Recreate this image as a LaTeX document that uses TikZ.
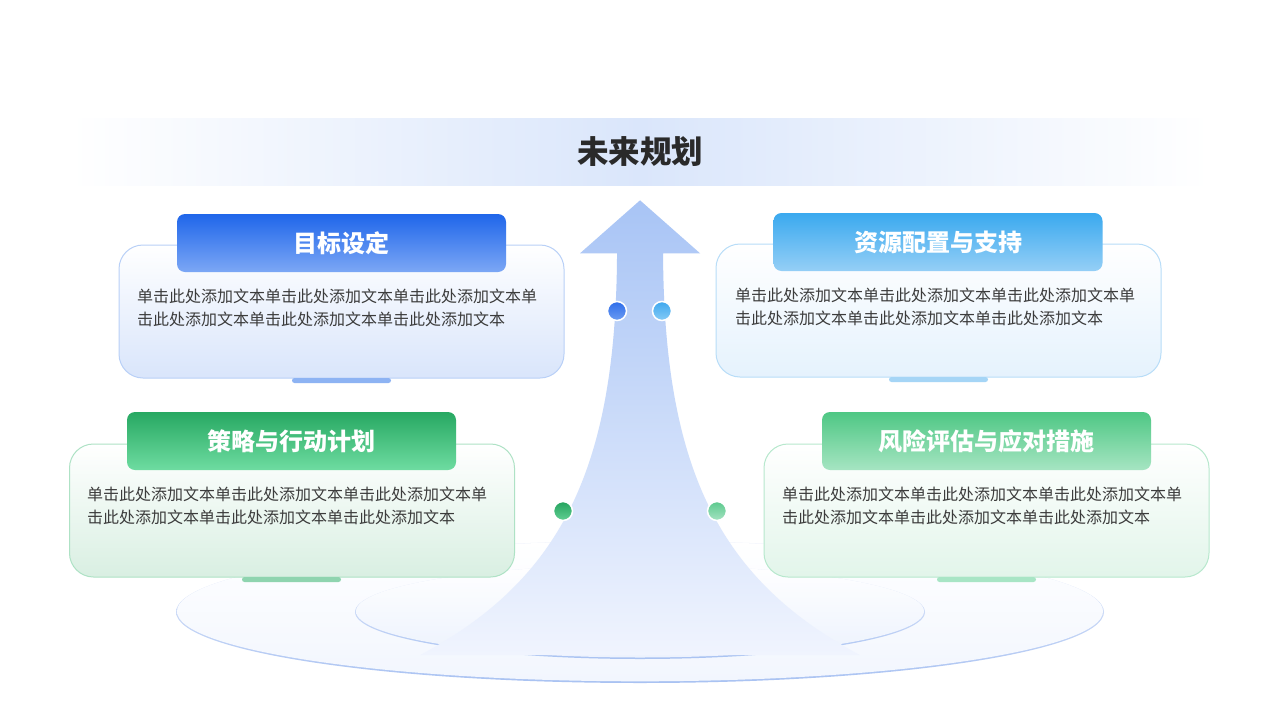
\documentclass[tikz,border=0pt]{standalone}
\usepackage{fontspec}
\usetikzlibrary{fadings}
\setmainfont{Noto Sans CJK SC}
\definecolor{band}{HTML}{DAE6FB}
\definecolor{arrtop}{HTML}{A8C4F5}
\definecolor{arrmid}{HTML}{D3E0FA}
\definecolor{arrbot}{HTML}{F0F4FE}
\definecolor{ringline}{HTML}{A9C2F2}
\definecolor{ringtop}{HTML}{EEF2FC}
\definecolor{ellfill}{HTML}{F2F6FE}
\definecolor{ellinner}{HTML}{ECF2FD}
\definecolor{bodytext}{HTML}{3C3C3C}
\definecolor{titletext}{HTML}{2A2A2A}
% blue
\definecolor{bTabTop}{HTML}{1F66EA}
\definecolor{bTabBot}{HTML}{7CA7F5}
\definecolor{bLine}{HTML}{B9D0F7}
\definecolor{bFill}{HTML}{D9E5FB}
\definecolor{bBar}{HTML}{8DB3F3}
% light blue
\definecolor{lTabTop}{HTML}{3AA9EF}
\definecolor{lTabBot}{HTML}{95CFF6}
\definecolor{lLine}{HTML}{B8DDF8}
\definecolor{lFill}{HTML}{E5F2FD}
\definecolor{lBar}{HTML}{A5D5F6}
% green
\definecolor{gTabTop}{HTML}{27A862}
\definecolor{gTabBot}{HTML}{6EDCA1}
\definecolor{gLine}{HTML}{AEE2C5}
\definecolor{gFill}{HTML}{D9EFE2}
\definecolor{gBar}{HTML}{8FD4AF}
% light green
\definecolor{mTabTop}{HTML}{4EC784}
\definecolor{mTabBot}{HTML}{A6E5C2}
\definecolor{mLine}{HTML}{B7E8CD}
\definecolor{mFill}{HTML}{E2F5EA}
\definecolor{mBar}{HTML}{A8E5C5}
% dots
\definecolor{d1a}{HTML}{2E6DEA}\definecolor{d1b}{HTML}{6C9CF2}
\definecolor{d2a}{HTML}{3FA8EE}\definecolor{d2b}{HTML}{86CBF6}
\definecolor{d3a}{HTML}{24A35E}\definecolor{d3b}{HTML}{62CF93}
\definecolor{d4a}{HTML}{5CC98D}\definecolor{d4b}{HTML}{A5E3C2}
\pgfdeclareverticalshading{arrowfadeshade}{100bp}{color(0bp)=(pgftransparent!100); color(2bp)=(pgftransparent!100); color(14bp)=(pgftransparent!0); color(100bp)=(pgftransparent!0)}
\pgfdeclarefading{arrowfade}{\pgfuseshading{arrowfadeshade}}
\begin{document}
\begin{tikzpicture}[x=1pt,y=-1pt,
  outerbox/.style={rounded corners=24pt, line width=1pt, minimum width=445pt, minimum height=133pt, inner sep=0pt},
  tabbox/.style={rounded corners=8pt, minimum width=329pt, minimum height=58pt, inner sep=0pt, text=white, font=\fontsize{24}{28}\selectfont\bfseries},
  bodytxt/.style={anchor=north west, inner sep=0pt, align=left, text=bodytext, font=\fontsize{16}{23}\selectfont},
  barbox/.style={rounded corners=2.5pt, minimum width=99pt, minimum height=5pt, inner sep=0pt},
  dotnode/.style={circle, draw=white, line width=1.5pt, minimum size=19pt, inner sep=0pt}
]
\useasboundingbox (0,0) rectangle (1280,720);
\fill[white] (0,0) rectangle (1280,720);
% title band
\shade[left color=white, right color=band] (70,118) rectangle (640,185);
\shade[left color=band, right color=white] (640,118) rectangle (1210,185);
\node[text=titletext, font=\fontsize{31.5}{36}\selectfont\bfseries] (title) at (640,152) {未来规划};
% ellipses
\shade[top color=ringtop, bottom color=ringline] (640,612) ellipse [x radius=464, y radius=71];
\shade[top color=white, bottom color=ellfill] (640,611.3) ellipse [x radius=463, y radius=70];
\shade[top color=ringtop, bottom color=ringline] (640,612) ellipse [x radius=285, y radius=47];
\shade[top color=white, bottom color=ellinner] (640,611.3) ellipse [x radius=284, y radius=46.2];
% arrow
\shade[top color=arrtop, middle color=arrmid, bottom color=arrbot, path fading=arrowfade]
  (640,200) -- (700,253) -- (663,253)
  .. controls (664,470) and (720,580) .. (860,655)
  -- (420,655)
  .. controls (560,580) and (616,470) .. (617,253)
  -- (580,253) -- cycle;
% box 1 blue
\node[outerbox, draw=bLine, top color=white, middle color=white, bottom color=bFill] (box1) at (341.5,311.5) {};
\node[barbox, fill=bBar] (bar1) at (341.5,380.5) {};
\node[tabbox, top color=bTabTop, bottom color=bTabBot] (tab1) at (341.5,243) {目标设定};
\node[bodytxt] (txt1) at (137,289) {单击此处添加文本单击此处添加文本单击此处添加文本单\\击此处添加文本单击此处添加文本单击此处添加文本};
% box 2 light blue
\node[outerbox, draw=lLine, top color=white, middle color=white, bottom color=lFill] (box2) at (938.5,310.5) {};
\node[barbox, fill=lBar] (bar2) at (938.5,379.5) {};
\node[tabbox, top color=lTabTop, bottom color=lTabBot] (tab2) at (938,242) {资源配置与支持};
\node[bodytxt] (txt2) at (735,288) {单击此处添加文本单击此处添加文本单击此处添加文本单\\击此处添加文本单击此处添加文本单击此处添加文本};
% box 3 green
\node[outerbox, draw=gLine, top color=white, middle color=white, bottom color=gFill] (box3) at (292,510.5) {};
\node[barbox, fill=gBar] (bar3) at (291.5,579.5) {};
\node[tabbox, top color=gTabTop, bottom color=gTabBot] (tab3) at (291.5,441) {策略与行动计划};
\node[bodytxt] (txt3) at (87,487) {单击此处添加文本单击此处添加文本单击此处添加文本单\\击此处添加文本单击此处添加文本单击此处添加文本};
% box 4 light green
\node[outerbox, draw=mLine, top color=white, middle color=white, bottom color=mFill] (box4) at (986.5,510.5) {};
\node[barbox, fill=mBar] (bar4) at (986.5,579.5) {};
\node[tabbox, top color=mTabTop, bottom color=mTabBot] (tab4) at (986.5,441) {风险评估与应对措施};
\node[bodytxt] (txt4) at (782,487) {单击此处添加文本单击此处添加文本单击此处添加文本单\\击此处添加文本单击此处添加文本单击此处添加文本};
% dots
\node[dotnode, top color=d1a, bottom color=d1b] (dot1) at (617,311) {};
\node[dotnode, top color=d2a, bottom color=d2b] (dot2) at (662,311) {};
\node[dotnode, top color=d3a, bottom color=d3b] (dot3) at (563,511) {};
\node[dotnode, top color=d4a, bottom color=d4b] (dot4) at (717,511) {};
\end{tikzpicture}
\end{document}
